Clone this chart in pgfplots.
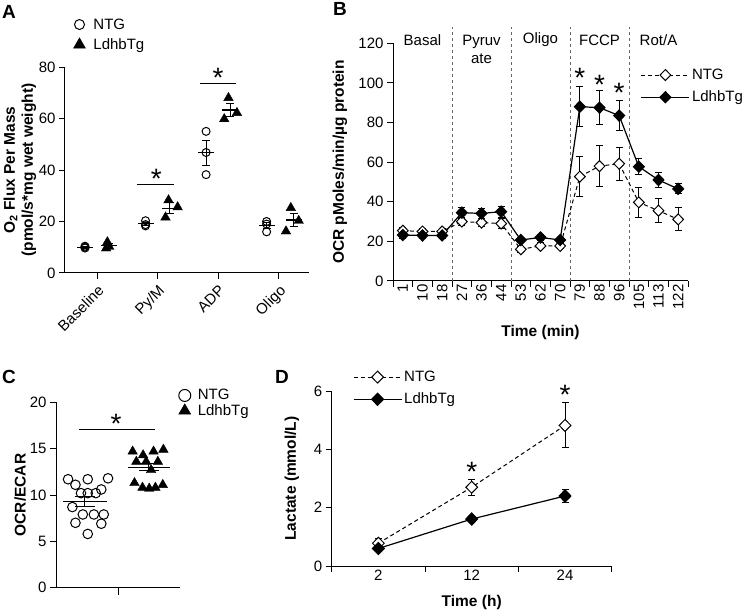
\documentclass[border=0pt]{standalone}
\usepackage{fontspec}
\setmainfont{Liberation Sans}
\usepackage{pgfplots}
\pgfplotsset{compat=1.18}
\newcommand\fs{\fontsize{15}{17}\selectfont}
\newcommand\fl{\fontsize{15}{17.5}\selectfont}
\newcommand\fb{\fontsize{15.5}{18}\selectfont\bfseries}
\newcommand\fstar{\fontsize{28}{28}\selectfont}
\pgfplotsset{
  base/.style={
    scale only axis,
    axis lines=left,
    axis line style={-, line width=1pt},
    tick align=outside,
    major tick length=6pt,
    minor tick length=6pt,
    tick style={line width=1pt, black},
    /pgf/number format/assume math mode=true,
    tick label style={font=\fs},
    label style={font=\fb},
    legend style={draw=none, fill=none, font=\fl, inner sep=0pt, outer sep=0pt},
    legend cell align=left,
    clip=false,
  },
  dotleg/.style={legend image code/.code={\draw[##1,/tikz/every mark/.append style={scale=1.25}] plot coordinates {(0pt,0pt)};}},
  lineleg/.style={legend image code/.code={\draw[mark repeat=2,mark phase=2,##1] plot coordinates {(0pt,0pt) (24pt,0pt) (48pt,0pt)};}},
  eb/.style={error bars/.cd, y dir=both, y explicit, error bar style={line width=1pt, solid}, error mark options={rotate=90, mark size=#1, line width=1pt, solid}},
}
\begin{document}
\begin{tikzpicture}
\useasboundingbox (0pt,0pt) rectangle (745pt,-612pt);
% panel letters
\node[font=\fontsize{19}{19}\selectfont\bfseries] at (9pt,-11.5pt) {A};
\node[font=\fontsize{19}{19}\selectfont\bfseries] at (340pt,-9pt) {B};
\node[font=\fontsize{19}{19}\selectfont\bfseries] at (9pt,-376.5pt) {C};
\node[font=\fontsize{19}{19}\selectfont\bfseries] at (282pt,-376.5pt) {D};

% ---------------- Panel A ----------------
\begin{axis}[base, at={(65pt,-273pt)}, anchor=south west, width=244pt, height=206pt,
  xmin=-0.53, xmax=3.5, ymin=0, ymax=80, ytick={0,20,40,60,80},
  xtick={0,1,2,3}, xticklabels={Baseline,Py/M,ADP,Oligo},
  xticklabel style={rotate=45, anchor=north east},
  ylabel={O\textsubscript{2} Flux Per Mass\\(pmol/s*mg wet weight)},
  ylabel style={align=center, at={(axis description cs:-0.185,0.5)}, anchor=center},
  legend style={at={(axis description cs:0.035,1.245)}, anchor=north west, row sep=4pt, column sep=6pt},
]
\addplot[only marks, mark=o, mark size=4pt, line width=1pt, dotleg] coordinates {
 (-0.2,10.4) (-0.2,10.0) (-0.2,9.7)
 (0.8,20.3) (0.8,18.3) (0.8,18.8)
 (1.8,55) (1.8,46.8) (1.8,38.2)
 (2.8,20.0) (2.8,19.0) (2.8,16.0)};
\addlegendentry{NTG}
\addplot[only marks, mark=triangle*, mark size=5.5pt, fill=black, dotleg] coordinates {
 (0.17,12.0) (0.2,10.2) (0.15,9.6)
 (1.18,28.3) (1.13,21.6) (1.33,25.6)
 (2.17,68) (2.1,59.8) (2.31,62.2)
 (3.2,25.3) (3.12,16.2) (3.33,20.3)};
\addlegendentry{LdhbTg}
\addplot[forget plot, only marks, mark=-, mark size=8pt, mark options={line width=1.2pt}, eb=4pt] coordinates {
 (-0.2,10.0) +- (0,0.3)
 (0.8,19.1) +- (0,0.7)
 (1.8,46.7) +- (0,4.8)
 (2.8,18.3) +- (0,1.2)};
\addplot[forget plot, only marks, mark=-, mark size=8pt, mark options={line width=1.2pt}, eb=4pt] coordinates {
 (0.2,10.6) +- (0,0.8)
 (1.2,25.2) +- (0,2.0)
 (2.2,63.3) +- (0,2.4)
 (3.25,20.6) +- (0,2.6)};
\addplot[forget plot, black, line width=1pt] coordinates {(0.66,34.2) (1.27,34.2)};
\addplot[forget plot, black, line width=1pt] coordinates {(1.7,73.7) (2.3,73.7)};
\node[font=\fstar] at (axis cs:0.98,36.6) {*};
\node[font=\fstar] at (axis cs:2.0,75.8) {*};
\end{axis}

% ---------------- Panel B ----------------
\begin{axis}[base, at={(393pt,-281pt)}, anchor=south west, width=295pt, height=237.7pt,
  xmin=0.5, xmax=15.5, ymin=0, ymax=120, ytick={0,20,40,60,80,100,120},
  xtick={0.5,1.5,...,15.5}, xticklabels={},
  extra x ticks={1,2,...,15},
  extra x tick labels={1,10,18,27,36,44,53,62,70,79,88,96,105,113,122},
  extra x tick style={major tick length=0pt, xticklabel style={rotate=90, anchor=east}},
  xlabel={Time (min)}, xlabel style={at={(axis description cs:0.5,-0.215)}, anchor=center},
  ylabel={OCR pMoles/min/µg protein}, ylabel style={at={(axis description cs:-0.18,0.5)}, anchor=center},
  legend style={at={(axis description cs:0.84,0.9)}, anchor=north west, row sep=6pt},
]
\addplot[forget plot, black!60, dashed, line width=0.9pt] coordinates {(3.5,0) (3.5,128)};
\addplot[forget plot, black!60, dashed, line width=0.9pt] coordinates {(6.5,0) (6.5,128)};
\addplot[forget plot, black!60, dashed, line width=0.9pt] coordinates {(9.5,0) (9.5,128)};
\addplot[forget plot, black!60, dashed, line width=0.9pt] coordinates {(12.5,0) (12.5,128)};
\addplot[black, line width=1pt, dash pattern=on 4pt off 3pt, mark=diamond*, mark size=5.5pt,
  mark options={solid, fill=white, xscale=1.3}, lineleg, eb=3.5pt] coordinates {
 (1,25.4) +- (0,1.5) (2,25.0) +- (0,1.5) (3,25.0) +- (0,1.5)
 (4,30.0) +- (0,2.0) (5,29.5) +- (0,2.0) (6,29.0) +- (0,2.5)
 (7,16.0) +- (0,1.5) (8,17.7) +- (0,1.5) (9,17.7) +- (0,1.5)
 (10,52.7) +- (0,10.0) (11,58.0) +- (0,10.2) (12,59.2) +- (0,8.4)
 (13,39.7) +- (0,7.7) (14,35.5) +- (0,6.2) (15,31.1) +- (0,5.8)};
\addlegendentry{NTG}
\addplot[black, line width=1.2pt, mark=diamond*, mark size=5.5pt,
  mark options={solid, fill=black, xscale=1.3}, lineleg, eb=3.5pt] coordinates {
 (1,23.2) +- (0,1.5) (2,23.0) +- (0,1.5) (3,23.0) +- (0,1.5)
 (4,34.5) +- (0,2.7) (5,34.1) +- (0,2.5) (6,35.0) +- (0,2.7)
 (7,20.7) +- (0,1.5) (8,22.0) +- (0,1.5) (9,20.7) +- (0,1.5)
 (10,88.0) +- (0,10.0) (11,87.5) +- (0,8.5) (12,83.5) +- (0,7.5)
 (13,57.7) +- (0,4.0) (14,51.0) +- (0,3.8) (15,46.5) +- (0,2.5)};
\addlegendentry{LdhbTg}
\node[font=\fl] at (axis cs:2,121.7) {Basal};
\node[font=\fl, align=center] at (axis cs:5,117.0) {Pyruv\\ate};
\node[font=\fl] at (axis cs:8,121.7) {Oligo};
\node[font=\fl] at (axis cs:11,121.7) {FCCP};
\node[font=\fl] at (axis cs:14,121.7) {Rot/A};
\node[font=\fstar] at (axis cs:10,102.4) {*};
\node[font=\fstar] at (axis cs:11,99.1) {*};
\node[font=\fstar] at (axis cs:12,94.8) {*};
\end{axis}

% ---------------- Panel C ----------------
\begin{axis}[base, at={(57pt,-587.7pt)}, anchor=south west, width=123pt, height=185.4pt,
  xmin=-1, xmax=1, ymin=0, ymax=20, ytick={0,5,10,15,20}, xtick={0}, xticklabels={},
  major tick length=7pt,
  ylabel={OCR/ECAR}, ylabel style={at={(axis description cs:-0.30,0.5)}, anchor=center},
  legend style={at={(axis description cs:0.99,1.08)}, anchor=north west, row sep=-1pt, column sep=5pt},
]
\addplot[only marks, mark=o, mark size=4.8pt, line width=1pt, dotleg] coordinates {
 (-0.82,11.7) (-0.50,11.7) (-0.17,11.8) (-0.70,11.1)
 (-0.61,10.2) (-0.50,10.2) (-0.37,10.2) (-0.28,10.6)
 (-0.75,8.7) (-0.58,7.9) (-0.40,7.9) (-0.24,7.9)
 (-0.70,7.0) (-0.28,6.9) (-0.50,5.8)};
\addlegendentry{NTG}
\addplot[only marks, mark=triangle*, mark size=5.5pt, fill=black, dotleg] coordinates {
 (0.23,14.7) (0.57,14.7) (0.73,14.9) (0.40,14.3)
 (0.29,13.6) (0.45,13.6) (0.64,13.6) (0.53,12.7)
 (0.26,11.3) (0.39,10.8) (0.50,10.7) (0.60,10.8) (0.72,11.1)};
\addlegendentry{LdhbTg}
\addplot[forget plot, only marks, mark=-, mark size=22pt, mark options={line width=1.2pt}, eb=10pt] coordinates {
 (-0.55,9.3) +- (0,0.5)};
\addplot[forget plot, only marks, mark=-, mark size=21pt, mark options={line width=1.2pt}, eb=10pt] coordinates {
 (0.49,13.0) +- (0,0.4)};
\addplot[forget plot, black, line width=1pt] coordinates {(-0.65,17.1) (0.6,17.1)};
\node[font=\fstar] at (axis cs:-0.04,17.7) {*};
\end{axis}

% ---------------- Panel D ----------------
\begin{axis}[base, at={(331.7pt,-566pt)}, anchor=south west, width=280pt, height=175pt,
  xmin=0.5, xmax=3.5, ymin=0, ymax=6, ytick={0,2,4,6},
  xtick={0.5,1.5,2.5,3.5}, xticklabels={},
  extra x ticks={1,2,3}, extra x tick labels={2,12,24},
  extra x tick style={major tick length=0pt},
  xlabel={Time (h)}, xlabel style={at={(axis description cs:0.5,-0.21)}, anchor=center},
  ylabel={Lactate (mmol/L)}, ylabel style={at={(axis description cs:-0.142,0.5)}, anchor=center},
  legend style={at={(axis description cs:0.076,1.125)}, anchor=north west, row sep=6pt},
]
\addplot[black, line width=1pt, dash pattern=on 4pt off 3pt, mark=diamond*, mark size=6pt,
  mark options={solid, fill=white, xscale=1.3}, lineleg, eb=3.5pt] coordinates {
 (1,0.78) +- (0,0.15) (2,2.70) +- (0,0.27) (3,4.82) +- (0,0.77)};
\addlegendentry{NTG}
\addplot[black, line width=1.2pt, mark=diamond*, mark size=6pt,
  mark options={solid, fill=black, xscale=1.3}, lineleg, eb=3.5pt] coordinates {
 (1,0.60) +- (0,0.10) (2,1.61) +- (0,0.07) (3,2.40) +- (0,0.23)};
\addlegendentry{LdhbTg}
\node[font=\fstar] at (axis cs:2,3.24) {*};
\node[font=\fstar] at (axis cs:3,5.88) {*};
\end{axis}
\end{tikzpicture}
\end{document}
